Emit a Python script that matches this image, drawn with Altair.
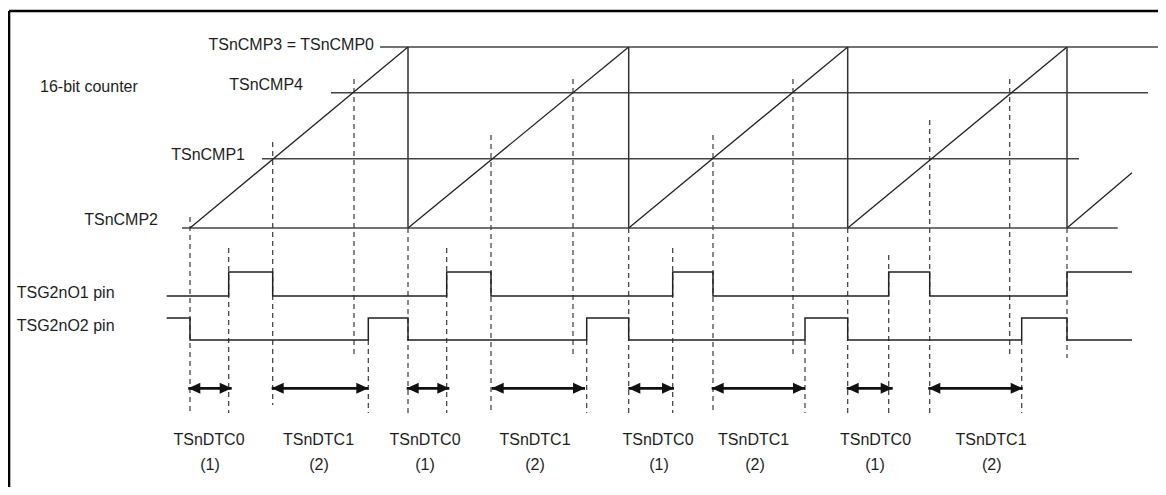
import altair as alt
import pandas as pd

# ---------------- values (time axis / level axis) -------------
# counter ramps
ramp_from_x = [190, 408, 628.7, 847.7, 1067]
ramp_from_y = [228, 228, 228, 228, 228]
ramp_to_x = [408, 628.7, 847.7, 1067, 1132]
ramp_to_y = [47, 47, 47, 47, 172.7]
# counter resets (vertical drops)
reset_x = [408, 628.7, 847.7, 1067]
reset_top = [47, 47, 47, 47]
reset_bottom = [228, 228, 228, 228]

# compare levels
cmp_names = ["TSnCMP3 = TSnCMP0", "TSnCMP4", "TSnCMP1", "TSnCMP2"]
cmp_level = [47, 92.7, 158.7, 228]
cmp_line_from = [380, 331, 262, 182]
cmp_line_to = [1158, 1148, 1079, 1117.7]
cmp_label_end = [374, 303, 245, 158]
cmp_label_y = [45, 85.3, 155.3, 220.3]

# output pins
o1_time = [166.7, 228.7, 272.7, 446.7, 491, 672.7, 713, 888.7, 929.7, 1067, 1132]
o1_state = [0, 1, 0, 1, 0, 1, 0, 1, 0, 1, 1]
o2_time = [166.7, 190, 368.3, 408, 586.7, 628.7, 805, 847.7, 1021.7, 1067, 1132]
o2_state = [1, 0, 1, 0, 1, 0, 1, 0, 1, 0, 0]
o1_levels = [296, 272]   # low, high
o2_levels = [340, 318]   # low, high

# dashed guide lines
dash_x = [190, 408, 628.7, 847.7, 1067,
          228.7, 446.7, 672.7, 888.7,
          272.7, 491, 713, 929.7,
          354, 573, 793, 1009.7,
          368.3, 586.7, 805, 1021.7]
dash_top = [217, 228, 228, 228, 228,
            248, 248, 248, 255,
            142, 135, 135, 120,
            79, 79, 79, 79,
            340, 340, 340, 340]
dash_bottom = [413, 413, 413, 413, 358,
               413, 413, 413, 413,
               405, 413, 413, 413,
               358, 358, 358, 358,
               413, 413, 413, 413]

# dead-time arrows
arrow_y = 388.3
arrow_from = [188.3, 406.7, 628.3, 846.7, 271.7, 491.7, 711.7, 928.3]
arrow_to = [231.7, 449.3, 674, 892.7, 368.3, 585, 805, 1022.7]

# bottom labels
dtc_names = ["TSnDTC0", "TSnDTC1", "TSnDTC0", "TSnDTC1", "TSnDTC0", "TSnDTC1", "TSnDTC0", "TSnDTC1"]
dtc_x = [209, 318.5, 425, 535, 658, 753.6, 875.5, 991]
dtc_y = 440
note_names = ["(1)", "(2)", "(1)", "(2)", "(1)", "(2)", "(1)", "(2)"]
note_x = [210, 319, 425, 535, 659, 755, 875, 991.7]
note_y = 465

# left labels
side_names = ["16-bit counter", "TSG2nO1 pin", "TSG2nO2 pin"]
side_x = [40, 16.7, 16.7]
side_y = [87, 292.5, 326]

# frame (top and left edges of the figure box)
frame_top_y = [11]
frame_top_from = [9]
frame_top_to = [1158]
frame_left_x = [9]
frame_left_from = [11]
frame_left_to = [487]

# ---------------- chart ----------------
W, H = 1150, 479
xs = alt.Scale(domain=[8, 8 + W], nice=False, zero=False)
ys = alt.Scale(domain=[8, 8 + H], nice=False, zero=False, reverse=True)
FONT = "Liberation Sans"
INK = "#1e1e1e"


def X(f="x"):
    return alt.X(f"{f}:Q", scale=xs, axis=None)


def Y(f="y"):
    return alt.Y(f"{f}:Q", scale=ys, axis=None)


frame_top = alt.Chart(pd.DataFrame({"x": frame_top_from, "x2": frame_top_to, "y": frame_top_y})).mark_rule(
    color="#000", strokeWidth=2.6).encode(x=X(), x2="x2:Q", y=Y())
frame_left = alt.Chart(pd.DataFrame({"x": frame_left_x, "y": frame_left_from, "y2": frame_left_to})).mark_rule(
    color="#000", strokeWidth=2.6).encode(x=X(), y=Y(), y2="y2:Q")

ramps = alt.Chart(pd.DataFrame({"x": ramp_from_x, "y": ramp_from_y, "x2": ramp_to_x, "y2": ramp_to_y})).mark_rule(
    color="#222", strokeWidth=1.3).encode(x=X(), y=Y(), x2="x2:Q", y2="y2:Q")

resets = alt.Chart(pd.DataFrame({"x": reset_x, "y": reset_top, "y2": reset_bottom})).mark_rule(
    color="#333", strokeWidth=1.5).encode(x=X(), y=Y(), y2="y2:Q")

cmp_lines = alt.Chart(pd.DataFrame({"x": cmp_line_from, "x2": cmp_line_to, "y": cmp_level})).mark_rule(
    color="#444", strokeWidth=1.5).encode(x=X(), x2="x2:Q", y=Y())

guides = alt.Chart(pd.DataFrame({"x": dash_x, "y": dash_top, "y2": dash_bottom})).mark_rule(
    color="#3a3a3a", strokeWidth=1.2, strokeDash=[5, 4]).encode(x=X(), y=Y(), y2="y2:Q")

sig_rows = []
for t, s in zip(o1_time, o1_state):
    sig_rows.append({"sig": "O1", "x": t, "y": o1_levels[s]})
for t, s in zip(o2_time, o2_state):
    sig_rows.append({"sig": "O2", "x": t, "y": o2_levels[s]})
signals = alt.Chart(pd.DataFrame(sig_rows)).mark_line(
    interpolate="step-after", color="#222", strokeWidth=1.5).encode(
    x=X(), y=Y(), detail="sig:N", order="x:Q")

arrow_df = pd.DataFrame({"x": arrow_from, "x2": arrow_to, "y": [arrow_y] * len(arrow_from)})
shafts = alt.Chart(arrow_df).mark_rule(color="#111", strokeWidth=2.8).encode(x=X(), x2="x2:Q", y=Y())
left_heads = alt.Chart(arrow_df).mark_point(
    shape="M 0 0 L 1 -0.46 L 1 0.46 Z", size=576, filled=True, opacity=1, color="#111",
    strokeWidth=0).encode(x=X("x"), y=Y())
right_heads = alt.Chart(arrow_df).mark_point(
    shape="M 0 0 L -1 -0.46 L -1 0.46 Z", size=576, filled=True, opacity=1, color="#111",
    strokeWidth=0).encode(x=X("x2"), y=Y())

cmp_text = alt.Chart(pd.DataFrame({"t": cmp_names, "x": cmp_label_end, "y": cmp_label_y})).mark_text(
    font=FONT, fontSize=16, color=INK, align="right", baseline="middle").encode(x=X(), y=Y(), text="t:N")

side_text = alt.Chart(pd.DataFrame({"t": side_names, "x": side_x, "y": side_y})).mark_text(
    font=FONT, fontSize=16, color=INK, align="left", baseline="middle").encode(x=X(), y=Y(), text="t:N")

dtc_text = alt.Chart(pd.DataFrame({"t": dtc_names, "x": dtc_x, "y": [dtc_y] * len(dtc_x)})).mark_text(
    font=FONT, fontSize=16, color=INK, align="center", baseline="middle").encode(x=X(), y=Y(), text="t:N")

note_text = alt.Chart(pd.DataFrame({"t": note_names, "x": note_x, "y": [note_y] * len(note_x)})).mark_text(
    font=FONT, fontSize=16, color=INK, align="center", baseline="middle").encode(x=X(), y=Y(), text="t:N")

chart = alt.layer(
    guides, cmp_lines, ramps, resets, signals, shafts, left_heads, right_heads,
    cmp_text, side_text, dtc_text, note_text, frame_top, frame_left
).properties(
    width=W, height=H, padding=0, autosize=alt.AutoSizeParams(type="none"), background="white"
).configure_view(stroke="transparent", strokeWidth=0)

chart.save("out.html", embed_options={"renderer": "svg", "actions": False})
